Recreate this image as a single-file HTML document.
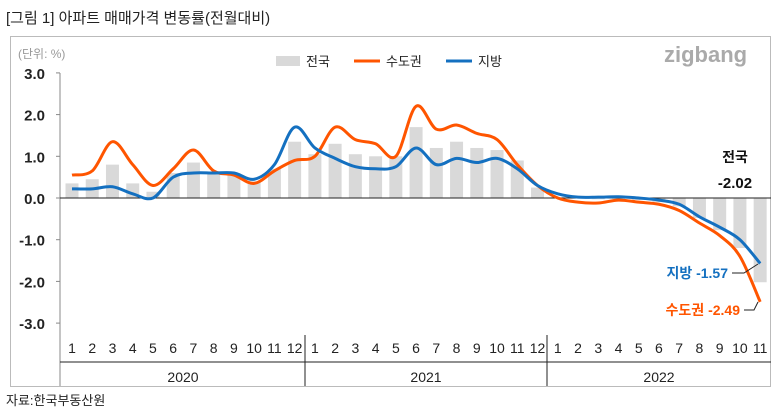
<!DOCTYPE html><html><head><meta charset="utf-8"><style>
body{margin:0;background:#fff;width:779px;height:415px;overflow:hidden;font-family:"Liberation Sans","Noto Sans CJK KR",sans-serif}
</style></head><body>
<svg id="s" width="779" height="415" xmlns="http://www.w3.org/2000/svg" font-family="Liberation Sans, Noto Sans CJK KR, sans-serif">
<text x="6" y="23" font-size="15" fill="#222">[그림 1]  아파트  매매가격  변동률(전월대비)</text>
<rect x="10.5" y="36.5" width="760" height="350" fill="none" stroke="#bbb"/>
<text x="18" y="58" font-size="12" fill="#999">(단위: %)</text>
<text x="664" y="62" font-size="22" fill="#aaa" font-weight="bold">zigbang</text>
<rect x="276" y="56" width="24" height="10" fill="#d9d9d9"/><text x="306" y="66" font-size="13" fill="#222">전국</text>
<line x1="354" y1="61" x2="380" y2="61" stroke="#ff5500" stroke-width="3"/><text x="386" y="66" font-size="13" fill="#222">수도권</text>
<line x1="446" y1="61" x2="472" y2="61" stroke="#1470c0" stroke-width="3"/><text x="478" y="66" font-size="13" fill="#222">지방</text>
<g id="g"></g>
<text x="6" y="405" font-size="13" fill="#222">자료:한국부동산원</text>
</svg>
<script>
var g=document.getElementById('g'),h='';
var z=198,u=41.7,x0=72,dx=20.24;
function Y(v){return z-v*u}
var ax=60;
h+='<line x1="'+ax+'" y1="73" x2="'+ax+'" y2="386" stroke="#888"/>';
for(var v=-3;v<=3;v++){h+='<line x1="'+(ax-4)+'" y1="'+Y(v)+'" x2="'+ax+'" y2="'+Y(v)+'" stroke="#888"/>';
h+='<text x="'+(ax-15)+'" y="'+(Y(v)+6)+'" font-size="15" font-weight="bold" text-anchor="end" fill="#222">'+v.toFixed(1)+'</text>';}
var n=[.35,.45,.8,.35,.15,.6,.85,.6,.6,.4,.7,1.35,1.05,1.3,1.05,1.0,1.0,1.7,1.2,1.35,1.2,1.15,.9,.25,.02,.01,-.03,-.02,-.05,-.1,-.2,-.48,-.77,-1.2,-2.02];
var o=[.55,.65,1.35,.8,.3,.7,1.15,.65,.55,.35,.65,.9,1.0,1.7,1.4,1.3,1.0,2.2,1.65,1.75,1.55,1.4,.8,.3,0,-.1,-.12,-.05,-.1,-.15,-.3,-.6,-.9,-1.4,-2.49];
var b=[.22,.22,.27,.1,0,.5,.6,.6,.6,.45,.8,1.7,1.2,.95,.75,.7,.75,1.2,.8,.95,.85,.95,.7,.3,.1,.02,.02,.03,0,-.05,-.15,-.45,-.7,-1.0,-1.57];
function X(i){return x0+i*dx}
n.forEach(function(v,i){var y=Math.min(Y(v),z),hh=Math.abs(v*u);h+='<rect x="'+(X(i)-6.5)+'" y="'+y+'" width="13" height="'+hh+'" fill="#d9d9d9"/>';});
h+='<line x1="'+ax+'" y1="'+z+'" x2="771" y2="'+z+'" stroke="#222"/>';
function path(a,c){var p=a.map(function(v,i){return [X(i),Y(v)]});var d='M'+p[0];
for(var i=0;i<p.length-1;i++){var p0=p[i-1]||p[i],p1=p[i],p2=p[i+1],p3=p[i+2]||p2;
d+='C'+(p1[0]+(p2[0]-p0[0])/6)+','+(p1[1]+(p2[1]-p0[1])/6)+' '+(p2[0]-(p3[0]-p1[0])/6)+','+(p2[1]-(p3[1]-p1[1])/6)+' '+p2;}
return '<path d="'+d+'" fill="none" stroke="'+c+'" stroke-width="3"/>';}
h+=path(o,'#ff5500')+path(b,'#1470c0');
for(var i=0;i<35;i++){h+='<text x="'+X(i)+'" y="353" font-size="14" text-anchor="middle" fill="#222">'+(i%12+1)+'</text>';}
[305,547].forEach(function(x){h+='<line x1="'+x+'" y1="335" x2="'+x+'" y2="386" stroke="#222"/>'});
h+='<line x1="60" y1="362" x2="771" y2="362" stroke="#222"/>';
h+='<text x="183" y="382" font-size="14" text-anchor="middle" fill="#222">2020</text><text x="426" y="382" font-size="14" text-anchor="middle" fill="#222">2021</text><text x="659" y="382" font-size="14" text-anchor="middle" fill="#222">2022</text>';
h+='<text x="735" y="162" font-size="14" font-weight="bold" text-anchor="middle" fill="#111">전국</text><text x="735" y="188" font-size="15" font-weight="bold" text-anchor="middle" fill="#111">-2.02</text>';
h+='<text x="728" y="278" font-size="14" font-weight="bold" text-anchor="end" fill="#1470c0">지방 -1.57</text><polyline points="732,273 744,273 758,264" fill="none" stroke="#222"/>';
h+='<text x="740" y="315" font-size="14" font-weight="bold" text-anchor="end" fill="#ff5500">수도권 -2.49</text><polyline points="744,310 754,310 758,302" fill="none" stroke="#222"/>';
g.innerHTML=h;
</script>
</body></html>
